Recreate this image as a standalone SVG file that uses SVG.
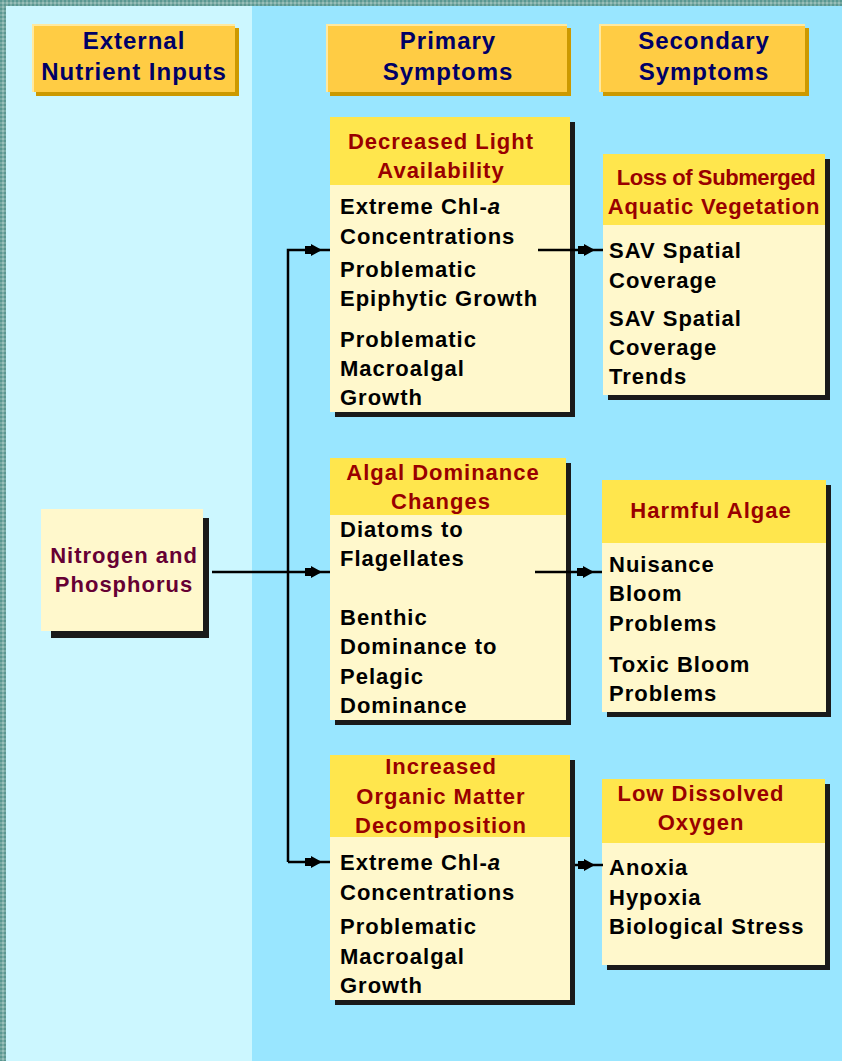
<svg xmlns="http://www.w3.org/2000/svg" width="842" height="1061" viewBox="0 0 842 1061">
<defs>
<pattern id="tex" width="4" height="4" patternUnits="userSpaceOnUse">
<rect width="4" height="4" fill="#7AAAA3"/>
<rect x="0" y="0" width="2" height="2" fill="#5A9892"/>
<rect x="2" y="2" width="2" height="2" fill="#98BFB9"/>
</pattern>
</defs>
<style>
text{font-family:"Liberation Sans",Arial,sans-serif;font-weight:bold;font-size:22px;letter-spacing:1px}
.hd{font-size:24px;fill:#000066;text-anchor:middle}
.tt{fill:#990000;text-anchor:middle}
.bd{fill:#000000}
.np{fill:#660033;text-anchor:middle}
.hbox{fill:#FFCC44}
.hsh{fill:#CC9900}
.hhl{fill:#FFE9A0}
.band{fill:#FFE64D}
.body{fill:#FFF8CC}
.sh{fill:#1A1A1A}
.ln{stroke:#000;stroke-width:2.5;fill:none}
.ah{fill:#000}
</style>
<rect x="0" y="0" width="842" height="1061" fill="url(#tex)"/>
<rect x="6" y="6" width="246" height="1055" fill="#CCF7FF"/>
<rect x="252" y="6" width="590" height="1055" fill="#99E6FF"/>

<g id="hdr-external">
<rect class="hsh" x="36" y="28" width="203" height="68"/>
<rect class="hhl" x="32" y="24" width="203" height="68"/>
<rect class="hbox" x="34" y="26" width="201" height="66"/>
<text class="hd" x="134" y="49">External</text>
<text class="hd" x="134" y="80">Nutrient Inputs</text>
</g>
<g id="hdr-primary">
<rect class="hsh" x="330" y="28" width="241" height="68"/>
<rect class="hhl" x="326" y="24" width="241" height="68"/>
<rect class="hbox" x="328" y="26" width="239" height="66"/>
<text class="hd" x="448" y="49">Primary</text>
<text class="hd" x="448" y="80">Symptoms</text>
</g>
<g id="hdr-secondary">
<rect class="hsh" x="603" y="28" width="206" height="68"/>
<rect class="hhl" x="599" y="24" width="206" height="68"/>
<rect class="hbox" x="601" y="26" width="204" height="66"/>
<text class="hd" x="704" y="49">Secondary</text>
<text class="hd" x="704" y="80">Symptoms</text>
</g>

<g id="nitrogen-phosphorus">
<rect class="sh" x="51" y="518" width="158" height="120"/>
<rect class="body" x="41" y="509" width="162" height="122"/>
<text class="np" x="124" y="563">Nitrogen and</text>
<text class="np" x="124" y="592">Phosphorus</text>
</g>

<g id="decreased-light">
<rect class="sh" x="335" y="122" width="240" height="295"/>
<rect class="body" x="330" y="117" width="240" height="295"/>
<rect class="band" x="330" y="117" width="240" height="68"/>
<text class="tt" x="441" y="149">Decreased Light</text>
<text class="tt" x="441" y="178">Availability</text>
<text class="bd" x="340" y="214">Extreme Chl-<tspan font-style="italic">a</tspan></text>
<text class="bd" x="340" y="244">Concentrations</text>
<text class="bd" x="340" y="277">Problematic</text>
<text class="bd" x="340" y="306">Epiphytic Growth</text>
<text class="bd" x="340" y="347">Problematic</text>
<text class="bd" x="340" y="376">Macroalgal</text>
<text class="bd" x="340" y="405">Growth</text>
</g>

<g id="loss-sav">
<rect class="sh" x="608" y="159" width="222" height="241"/>
<rect class="body" x="603" y="154" width="222" height="241"/>
<rect class="band" x="603" y="154" width="222" height="71"/>
<text class="tt" x="716" y="185" style="letter-spacing:-0.4px">Loss of Submerged</text>
<text class="tt" x="714" y="214" style="letter-spacing:0.8px">Aquatic Vegetation</text>
<text class="bd" x="609" y="258">SAV Spatial</text>
<text class="bd" x="609" y="288">Coverage</text>
<text class="bd" x="609" y="326">SAV Spatial</text>
<text class="bd" x="609" y="355">Coverage</text>
<text class="bd" x="609" y="384">Trends</text>
</g>

<g id="algal-dominance">
<rect class="sh" x="335" y="463" width="236" height="262"/>
<rect class="body" x="330" y="458" width="236" height="262"/>
<rect class="band" x="330" y="458" width="236" height="57"/>
<text class="tt" x="443" y="480">Algal Dominance</text>
<text class="tt" x="441" y="509">Changes</text>
<text class="bd" x="340" y="537">Diatoms to</text>
<text class="bd" x="340" y="566">Flagellates</text>
<text class="bd" x="340" y="625">Benthic</text>
<text class="bd" x="340" y="654">Dominance to</text>
<text class="bd" x="340" y="684">Pelagic</text>
<text class="bd" x="340" y="713">Dominance</text>
</g>

<g id="harmful-algae">
<rect class="sh" x="607" y="485" width="224" height="232"/>
<rect class="body" x="602" y="480" width="224" height="232"/>
<rect class="band" x="602" y="480" width="224" height="63"/>
<text class="tt" x="711" y="518">Harmful Algae</text>
<text class="bd" x="609" y="572">Nuisance</text>
<text class="bd" x="609" y="601">Bloom</text>
<text class="bd" x="609" y="631">Problems</text>
<text class="bd" x="609" y="672">Toxic Bloom</text>
<text class="bd" x="609" y="701">Problems</text>
</g>

<g id="organic-matter">
<rect class="sh" x="335" y="760" width="240" height="245"/>
<rect class="body" x="330" y="755" width="240" height="245"/>
<rect class="band" x="330" y="755" width="240" height="82"/>
<text class="tt" x="441" y="774">Increased</text>
<text class="tt" x="441" y="804">Organic Matter</text>
<text class="tt" x="441" y="833">Decomposition</text>
<text class="bd" x="340" y="870">Extreme Chl-<tspan font-style="italic">a</tspan></text>
<text class="bd" x="340" y="900">Concentrations</text>
<text class="bd" x="340" y="934">Problematic</text>
<text class="bd" x="340" y="964">Macroalgal</text>
<text class="bd" x="340" y="993">Growth</text>
</g>

<g id="low-do">
<rect class="sh" x="607" y="784" width="223" height="186"/>
<rect class="body" x="602" y="779" width="223" height="186"/>
<rect class="band" x="602" y="779" width="223" height="64"/>
<text class="tt" x="701" y="801">Low Dissolved</text>
<text class="tt" x="701" y="830">Oxygen</text>
<text class="bd" x="609" y="875">Anoxia</text>
<text class="bd" x="609" y="905">Hypoxia</text>
<text class="bd" x="609" y="934">Biological Stress</text>
</g>

<g id="connectors">
<path class="ln" d="M288,862 V250 H330"/>
<path class="ln" d="M212,572 H330"/>
<path class="ln" d="M288,862 H330"/>
<path class="ln" d="M538,250 H603"/>
<path class="ln" d="M535,572 H602"/>
<path class="ln" d="M575,865 H603"/>
<polygon class="ah" points="305,246 311,246 311,244 322,250 311,256 311,254 305,254"/>
<polygon class="ah" points="305,568 311,568 311,566 322,572 311,578 311,576 305,576"/>
<polygon class="ah" points="305,858 311,858 311,856 322,862 311,868 311,866 305,866"/>
<polygon class="ah" points="578,246 584,246 584,244 595,250 584,256 584,254 578,254"/>
<polygon class="ah" points="577,568 583,568 583,566 594,572 583,578 583,576 577,576"/>
<polygon class="ah" points="578,861 584,861 584,859 595,865 584,871 584,869 578,869"/>
</g>
</svg>
